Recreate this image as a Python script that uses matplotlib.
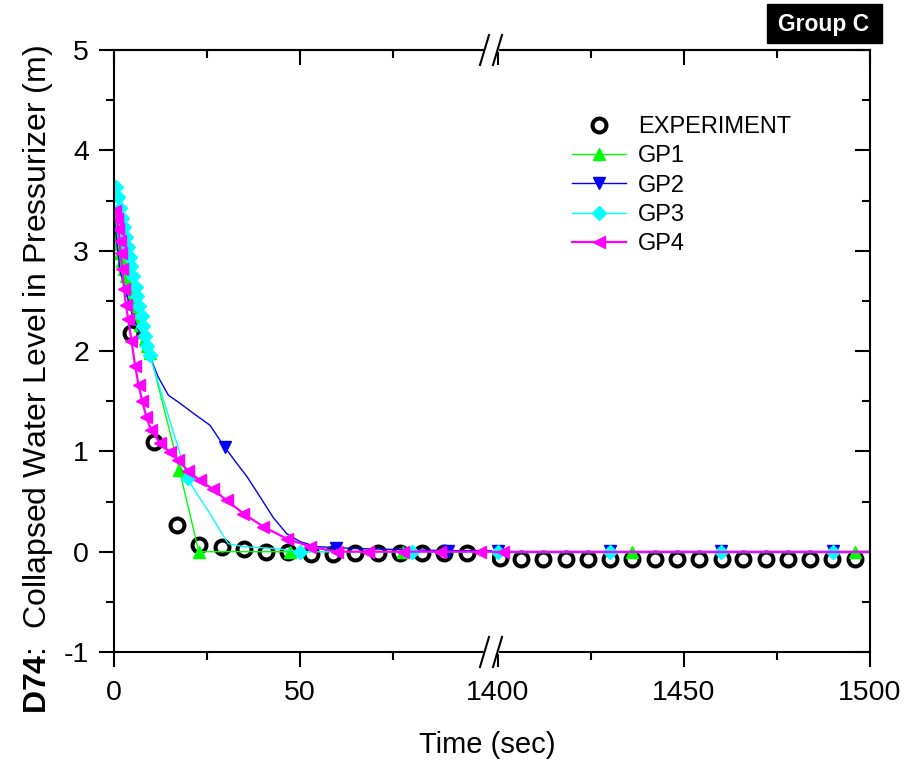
import matplotlib.pyplot as plt
from matplotlib.lines import Line2D
from matplotlib.patches import Rectangle
from matplotlib.ticker import MultipleLocator

plt.rcParams["font.family"] = ["Liberation Sans", "DejaVu Sans"]
plt.rcParams["mathtext.fontset"] = "custom"
plt.rcParams["mathtext.rm"] = "Liberation Sans"
plt.rcParams["mathtext.bf"] = "Liberation Sans:bold"
plt.rcParams["axes.unicode_minus"] = False

# ---- data (time in s, collapsed level in m) ----
exp_t = [4.7, 10.7, 16.8, 22.8, 28.9, 35.0, 40.8, 46.8, 52.9, 58.8, 64.8, 70.9,
         76.9, 82.7, 88.7, 94.8,
         1400.5, 1406.3, 1412.2, 1418.3, 1424.3, 1430.1, 1435.9, 1442.2, 1448.0,
         1454.1, 1460.1, 1465.9, 1472.0, 1478.0, 1483.8, 1489.9, 1495.9]
exp_v = [2.18, 1.09, 0.27, 0.07, 0.05, 0.025, 0.0, 0.0, -0.02, -0.02, -0.01, -0.01,
         -0.01, -0.015, -0.01, -0.015,
         -0.065, -0.07, -0.07, -0.075, -0.075, -0.07, -0.075, -0.07, -0.075,
         -0.075, -0.07, -0.075, -0.07, -0.075, -0.075, -0.07, -0.075]

gp1_t = [0.0, 0.5, 1.1, 1.6, 2.2, 2.7, 3.3, 3.8, 4.4, 4.9, 5.5, 6.0, 6.6, 7.1,
         7.7, 8.2, 8.8, 9.7, 17.6, 22.8, 47.3, 77.7, 1436.0, 1496.0, 1500.0]
gp1_v = [3.25, 3.17, 3.07, 2.98, 2.90, 2.82, 2.75, 2.68, 2.61, 2.54, 2.47, 2.40,
         2.33, 2.26, 2.19, 2.12, 2.05, 1.98, 0.81, 0.0, 0.0, 0.0, 0.0, 0.0, 0.0]
gp1_marks = list(range(24))

gp2_t = [0.0, 1.6, 5.1, 9.7, 11.9, 14.6, 17.7, 21.3, 25.8, 27.6, 29.8, 33.0,
         35.7, 39.2, 42.8, 46.4, 50.0, 54.5, 59.8, 66.0, 89.8,
         1400.0, 1430.0, 1460.0, 1490.0, 1500.0]
gp2_v = [3.35, 2.80, 2.34, 1.94, 1.74, 1.56, 1.48, 1.38, 1.26, 1.16, 1.04, 0.88,
         0.75, 0.55, 0.34, 0.18, 0.10, 0.05, 0.04, 0.03, 0.01,
         0.01, 0.01, 0.01, 0.01, 0.01]
gp2_marks = [10, 18, 20, 21, 22, 23, 24]

gp3_t = [0.5, 1.0, 1.6, 2.1, 2.6, 3.1, 3.7, 4.2, 4.7, 5.2, 5.8, 6.3, 6.8, 7.4,
         7.9, 8.4, 9.0, 9.6, 19.8, 22.2, 25.8, 28.5, 30.7, 34.8, 43.7, 50.0,
         80.0, 1400.0, 1430.0, 1460.0, 1490.0, 1500.0]
gp3_v = [3.63, 3.53, 3.43, 3.33, 3.24, 3.14, 3.04, 2.94, 2.85, 2.75, 2.64, 2.55,
         2.45, 2.35, 2.25, 2.15, 2.05, 1.96, 0.73, 0.58, 0.38, 0.21, 0.08, 0.05,
         0.03, 0.0, 0.0, 0.0, 0.0, 0.0, 0.0, 0.0]
gp3_marks = list(range(19)) + [25, 26, 27, 28, 29, 30]

gp4_t = [0.4, 0.8, 1.2, 1.5, 1.8, 2.2, 2.7, 3.2, 3.8, 4.7, 5.7, 6.6, 7.6, 8.7,
         10.0, 12.4, 15.1, 17.3, 20.0, 23.1, 26.7, 30.3, 34.8, 40.1, 46.4, 52.7,
         59.9, 68.3, 77.7, 87.6, 98.4, 1401.4, 1500.0]
gp4_v = [3.40, 3.32, 3.22, 3.10, 2.98, 2.82, 2.62, 2.46, 2.32, 2.10, 1.85, 1.66,
         1.50, 1.34, 1.21, 1.08, 0.99, 0.91, 0.80, 0.71, 0.62, 0.51, 0.38, 0.25,
         0.13, 0.05, 0.0, 0.0, 0.0, 0.0, 0.0, 0.0, 0.0]
gp4_marks = list(range(32))

W, H = 911, 769
fig = plt.figure(figsize=(W / 100, H / 100), dpi=100)


def fx(px):
    return px / W


def fy(py):
    return 1 - py / H


X0, XB, X1 = 114, 492, 870
YT, YB = 50, 652
ax_l = fig.add_axes([fx(X0), fy(YB), (XB - X0) / W, (YB - YT) / H])
ax_r = fig.add_axes([fx(XB), fy(YB), (X1 - XB) / W, (YB - YT) / H])

series = [
    ("GP1", gp1_t, gp1_v, gp1_marks, "#00ff00", "^", 9, 1.0),
    ("GP2", gp2_t, gp2_v, gp2_marks, "#0000ff", "v", 9, 1.0),
    ("GP3", gp3_t, gp3_v, gp3_marks, "#00ffff", "D", 7, 1.0),
    ("GP4", gp4_t, gp4_v, gp4_marks, "#ff00ff", "<", 9, 1.6),
]

for ax in (ax_l, ax_r):
    ax.plot(exp_t, exp_v, "o", ms=10, mfc="none", mec="black", mew=2.9)
    for name, t, v, marks, c, m, ms, lw in series:
        ax.plot(t, v, color=c, lw=lw, marker=m, markevery=marks, ms=ms,
                mfc=c, mec=c)
    ax.set_ylim(-1, 5)
    ax.yaxis.set_major_locator(MultipleLocator(1))
    ax.yaxis.set_minor_locator(MultipleLocator(0.5))
    for s in ax.spines.values():
        s.set_linewidth(1.5)
    ax.tick_params(which="both", width=1.5, labelsize=20.5)
    ax.tick_params(which="major", length=11)
    ax.tick_params(which="minor", length=6)
    ax.tick_params(axis="x", which="both", direction="out", top=False, pad=9)

ax_l.set_xlim(0, 101.6)
ax_r.set_xlim(1398.4, 1500)
ax_l.set_xticks([0, 50])
ax_l.set_xticks([25, 75], minor=True)
ax_r.set_xticks([1400, 1450, 1500])
ax_r.set_xticks([1425, 1475], minor=True)

ax_l.spines["right"].set_visible(False)
ax_r.spines["left"].set_visible(False)
ax_l.tick_params(axis="y", which="both", direction="out", right=False, pad=7)
ax_r.tick_params(axis="y", which="both", direction="in", left=False,
                 labelleft=False, right=True, labelright=False)

# top ticks point inward
for ax, maj, mnr in ((ax_l, [0, 50], [25, 75]),
                     (ax_r, [1400, 1450, 1500], [1425, 1475])):
    top = ax.secondary_xaxis("top")
    top.set_xticks(maj)
    top.set_xticks(mnr, minor=True)
    top.tick_params(which="both", direction="in", width=1.5, labeltop=False)
    top.tick_params(which="major", length=11)
    top.tick_params(which="minor", length=6)
    top.spines["top"].set_linewidth(1.5)

# axis break marks
for ys in (YT, YB):
    fig.add_artist(Line2D([fx(486), fx(497)], [fy(ys), fy(ys)],
                          transform=fig.transFigure, color="white", lw=3))
    for x0 in (480, 493):
        fig.add_artist(Line2D([fx(x0), fx(x0 + 9)], [fy(ys + 15), fy(ys - 15)],
                              transform=fig.transFigure, color="black", lw=1.5))

fig.text(fx(38), fy(380),
         r"$\mathbf{D74}$:  Collapsed Water Level in Pressurizer (m)",
         rotation=90, ha="center", va="center", fontsize=23)
fig.text(fx(487), fy(745), "Time (sec)", ha="center", va="center", fontsize=21)

# "Group C" tag
fig.add_artist(Rectangle((fx(767), fy(43)), 115 / W, 39 / H,
                         transform=fig.transFigure, color="black"))
fig.text(fx(824), fy(24), "Group C", color="white", ha="center", va="center",
         fontsize=16.5, fontweight="bold")

handles = [Line2D([], [], ls="none", marker="o", ms=10, mfc="none", mec="black",
                  mew=2.9, label="EXPERIMENT")]
for name, t, v, marks, c, m, ms, lw in series:
    handles.append(Line2D([], [], color=c, lw=lw, marker=m, ms=ms, mfc=c, mec=c,
                          label=name))
fig.legend(handles=handles, loc="upper left", bbox_to_anchor=(fx(572), fy(116)),
           frameon=False, fontsize=17, handlelength=2.3, handletextpad=0.5,
           labelspacing=0.31, borderpad=0, borderaxespad=0)

fig.savefig("out.png", dpi=100)
